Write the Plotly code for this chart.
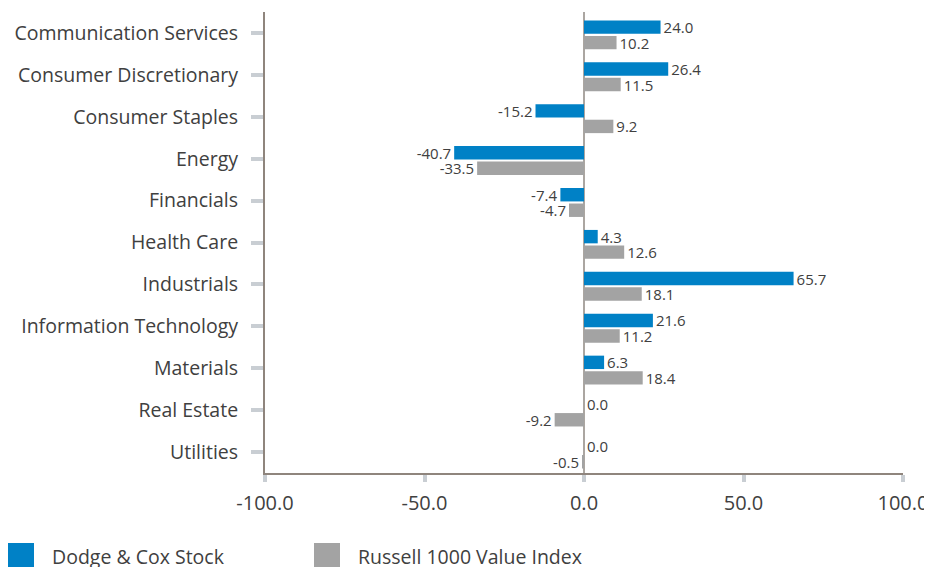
import plotly.graph_objects as go

categories = ["Communication Services", "Consumer Discretionary", "Consumer Staples", "Energy",
              "Financials", "Health Care", "Industrials", "Information Technology",
              "Materials", "Real Estate", "Utilities"]
series_names = ["Dodge & Cox Stock", "Russell 1000 Value Index"]
dodge_cox = [24.0, 26.4, -15.2, -40.7, -7.4, 4.3, 65.7, 21.6, 6.3, 0.0, 0.0]
russell = [10.2, 11.5, 9.2, -33.5, -4.7, 12.6, 18.1, 11.2, 18.4, -9.2, -0.5]
x_ticks = [-100, -50, 0, 50, 100]
colors = ["#0081C6", "#A3A3A3"]
bar_offsets = [-0.30, 0.07]
bar_width = 0.32

FONT = "Open Sans"
TXT = "#404040"

fig = go.Figure()
for name, vals, col, off in zip(series_names, [dodge_cox, russell], colors, bar_offsets):
    fig.add_trace(go.Bar(
        y=categories, x=vals, name=name, orientation="h",
        offset=off, width=bar_width,
        marker=dict(color=col, line=dict(width=0)),
        text=[f"{v:.1f}" for v in vals], textposition="outside",
        textfont=dict(family=FONT, size=15, color=TXT),
        constraintext="none", cliponaxis=False, showlegend=False,
    ))

fig.update_layout(
    width=924, height=559,
    margin=dict(l=257, r=29, t=4, b=94),
    paper_bgcolor="white", plot_bgcolor="white",
    barmode="overlay",
    font=dict(family=FONT, size=19.5, color=TXT),
    xaxis=dict(range=[-100, 100], tickvals=x_ticks, ticktext=[f"{t:.1f}" for t in x_ticks],
               showgrid=False, zeroline=True, zerolinecolor="#ABA6A1", zerolinewidth=2,
               showline=True, linecolor="#8F857D", linewidth=2,
               ticks="outside", ticklen=7, tickwidth=4, tickcolor="#C9CED3",
               tickfont=dict(size=20, color=TXT), ticklabelstandoff=4),
    yaxis=dict(categoryorder="array", categoryarray=categories, autorange="reversed",
               showgrid=False, showline=True, linecolor="#8F857D", linewidth=2,
               ticks="outside", ticklen=12, tickwidth=4, tickcolor="#C9CED3",
               tickfont=dict(size=19.5, color=TXT), ticklabelstandoff=9),
)

# manual legend
pw, ph = 638.0, 461.0
def px_x(p): return (p - 265) / pw
def px_y(p): return (473 - p) / ph

legend_pos = [(8, 50), (314, 356)]
for (sx, tx), name, col in zip(legend_pos, series_names, colors):
    fig.add_shape(type="rect", xref="paper", yref="paper",
                  x0=px_x(sx), x1=px_x(sx + 26), y0=px_y(543), y1=px_y(570),
                  fillcolor=col, line=dict(width=0))
    fig.add_annotation(xref="paper", yref="paper", x=px_x(tx), y=px_y(556),
                       text=name, showarrow=False, xanchor="left", yanchor="middle",
                       font=dict(family=FONT, size=19.5, color=TXT))

fig.write_html("out.html")
